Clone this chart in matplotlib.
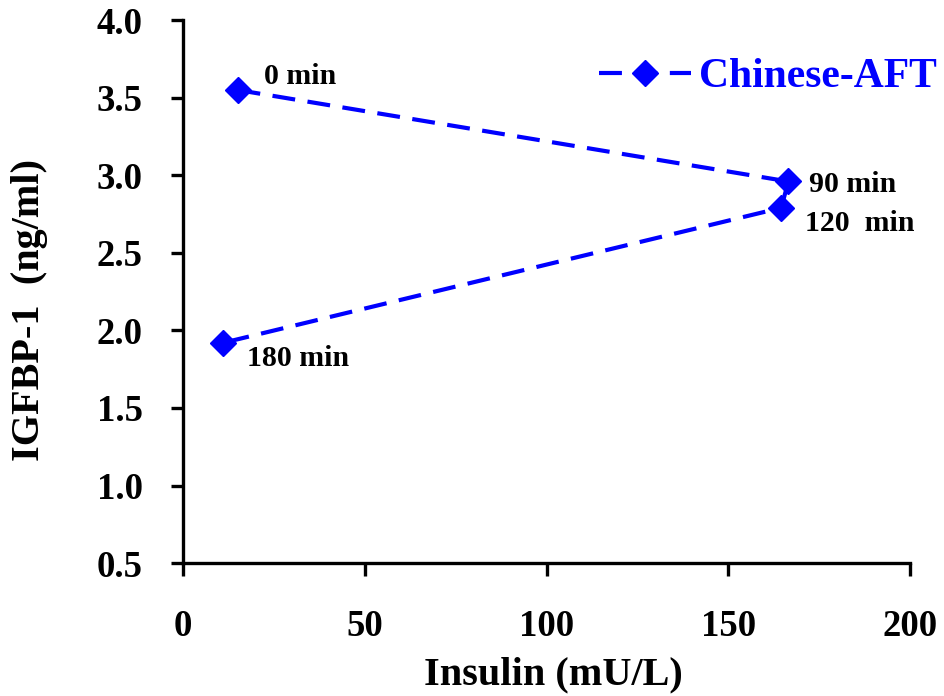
import matplotlib
matplotlib.use("Agg")
import matplotlib.pyplot as plt

insulin = [15.0, 166.5, 164.5, 11.0]
igfbp1 = [3.55, 2.96, 2.79, 1.92]
time_labels = ["0 min", "90 min", "120  min", "180 min"]
label_offsets = [(19, 10), (15, -2), (17, -11), (17, -11.5)]
series_name = "Chinese-AFT"
xticks = [0, 50, 100, 150, 200]
yticks = [0.5, 1.0, 1.5, 2.0, 2.5, 3.0, 3.5, 4.0]

plt.rcParams['font.family'] = ['Liberation Serif', 'DejaVu Serif']
plt.rcParams['font.weight'] = 'bold'

fig = plt.figure(figsize=(9.44, 6.96), dpi=100)
ax = fig.add_axes([0.1939, 0.191, 0.7703, 0.780])

blue = '#0000FF'
ax.plot(insulin, igfbp1, color=blue, lw=3.0, dashes=(5.5, 3),
        marker='D', markersize=13.5, markerfacecolor=blue, markeredgecolor=blue,
        label=series_name)

for x, y, t, off in zip(insulin, igfbp1, time_labels, label_offsets):
    ax.annotate(t, (x, y), xytext=off, textcoords='offset points',
                fontsize=21.5, fontweight='bold', color='black', va='center', ha='left')

ax.set_xlim(0, 200)
ax.set_ylim(0.5, 4.0)
ax.set_xticks(xticks)
ax.set_xticklabels([str(v) for v in xticks])
ax.set_yticks(yticks)
ax.set_yticklabels([f"{v:.1f}" for v in yticks])

for s in ['top', 'right']:
    ax.spines[s].set_visible(False)
for s in ['left', 'bottom']:
    ax.spines[s].set_linewidth(2.4)
ax.tick_params(axis='both', direction='out', length=9, width=2.4, labelsize=26.5)
ax.tick_params(axis='x', pad=24)
ax.tick_params(axis='y', pad=20)
for lab in ax.get_xticklabels() + ax.get_yticklabels():
    lab.set_fontweight('bold')

ax.set_xlabel("Insulin (mU/L)", fontsize=29, fontweight='bold', labelpad=9)
ax.set_ylabel("IGFBP-1  (ng/ml)", fontsize=29, fontweight='bold')
ax.yaxis.set_label_coords(-0.186, 0.466)
ax.xaxis.label.set_x(0.509)

leg = ax.legend(loc='upper right', frameon=False, fontsize=30, handlelength=2.2,
                handletextpad=0.2, bbox_to_anchor=(1.06, 0.961), borderaxespad=0.0)
for t in leg.get_texts():
    t.set_color(blue)
    t.set_fontweight('bold')

fig.savefig("out.png", dpi=100)
